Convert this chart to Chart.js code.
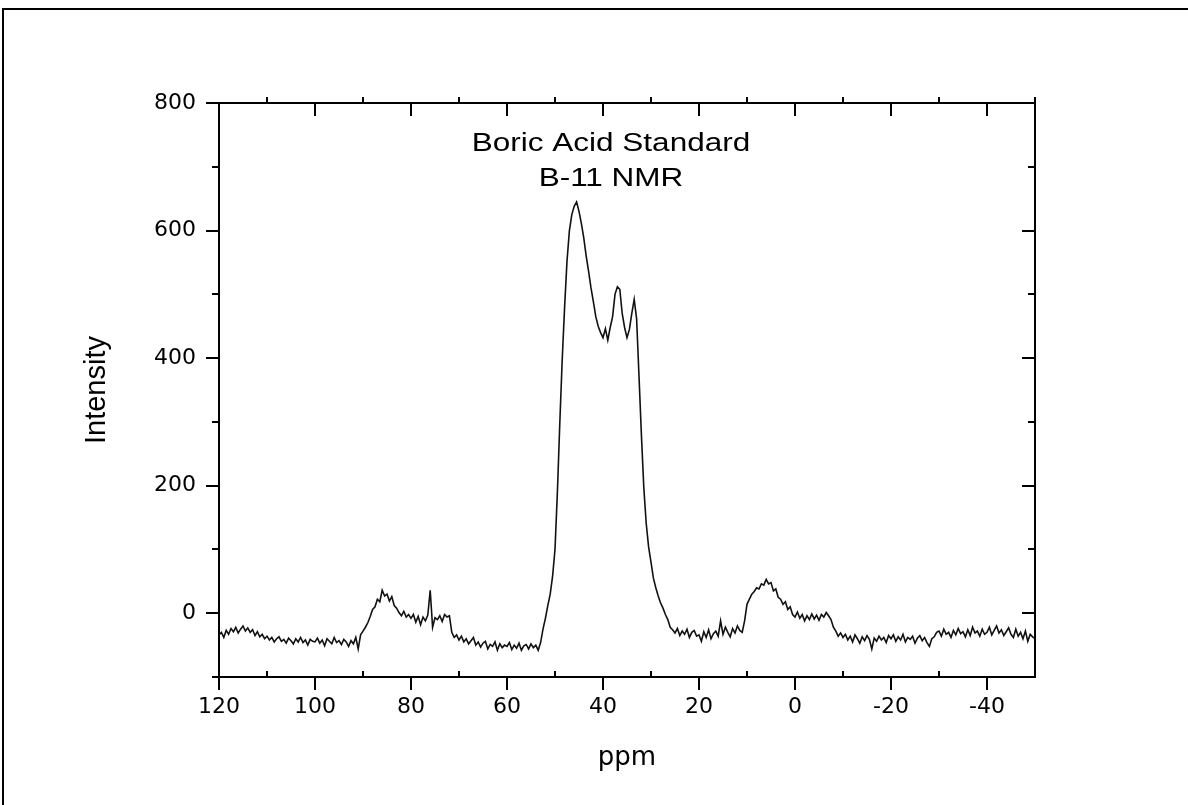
<!DOCTYPE html>
<html>
<head>
<meta charset="utf-8">
<script src="https://cdn.jsdelivr.net/npm/chart.js@4.4.1/dist/chart.umd.min.js"></script>
<style>
  html, body { margin: 0; padding: 0; background: #fff; }
  canvas { display: block; }
</style>
</head>
<body>
<canvas id="c" width="1188" height="805"></canvas>
<script>
// ---- sampling grid of the spectrum (ppm, 0.5 ppm per point, high -> low) ----
const ppmStart = 120;
const ppmStep = 0.5;

// ---- intensity values, in 10 ppm blocks ----
const seg120 = [-34,-30,-38,-27,-33,-24,-29,-22,-31,-25,-20,-28,-23,-30,-26,-35,-29,-37,-33,-40];
const seg110 = [-36,-42,-38,-45,-40,-37,-44,-41,-47,-39,-43,-48,-40,-45,-38,-46,-42,-50,-41,-44];
const seg100 = [-45,-39,-47,-42,-51,-40,-44,-48,-38,-46,-43,-49,-41,-45,-52,-43,-48,-38,-56,-34];
const seg90  = [-28,-22,-15,-5,6,10,22,18,36,27,30,19,26,12,8,1,-4,3,-6,-2];
const seg80  = [-8,-2,-14,-5,-18,-6,-12,-3,36,-22,-7,-10,-4,-13,-2,-6,-4,-30,-38,-34];
const seg70  = [-42,-36,-45,-40,-48,-43,-38,-50,-45,-53,-47,-44,-56,-49,-52,-45,-58,-48,-54,-50];
const seg60  = [-52,-46,-57,-50,-55,-47,-58,-51,-49,-56,-48,-54,-50,-58,-46,-25,-8,12,30,58];
const seg50  = [100,190,298,397,480,552,600,625,638,645,630,611,588,560,536,510,488,465,450,440];
const seg40  = [432,446,428,448,465,500,512,508,470,448,432,445,470,492,462,372,280,197,141,104];
const seg30  = [80,55,40,27,16,8,-2,-10,-22,-26,-31,-24,-35,-28,-33,-25,-38,-30,-27,-36];
const seg20  = [-34,-44,-29,-38,-26,-40,-32,-28,-36,-12,-33,-22,-30,-37,-24,-31,-20,-27,-30,-12];
const seg10  = [14,22,30,34,40,38,46,44,53,46,48,35,38,25,22,14,18,6,10,-2];
const seg0   = [-6,2,-8,-2,-12,-4,-10,-1,-9,-3,-11,-2,-6,1,-4,-10,-22,-28,-36,-31];
const segM10 = [-38,-33,-42,-36,-45,-34,-40,-47,-37,-43,-35,-41,-56,-39,-44,-36,-42,-38,-46,-35];
const segM20 = [-40,-34,-44,-37,-42,-33,-45,-38,-41,-36,-47,-39,-35,-43,-38,-46,-52,-40,-37,-30];
const segM30 = [-28,-36,-25,-33,-30,-38,-27,-34,-24,-32,-29,-37,-26,-35,-22,-31,-28,-36,-25,-33];
const segM40 = [-30,-22,-34,-27,-20,-31,-26,-35,-29,-23,-33,-38,-25,-36,-30,-40,-28,-44,-33,-37,-40];

// ---- axis ticks and labels ----
const xMajorTicks = [120,100,80,60,40,20,0,-20,-40];
const xMinorTicks = [110,90,70,50,30,10,-10,-30,-50];
const yMajorTicks = [0,200,400,600,800];
const yMinorTicks = [-100,100,300,500,700];
const xRange = [-50, 120];
const yRange = [-100, 800];
const xTitle = 'ppm';
const yTitle = 'Intensity';
const titleLines = ['Boric Acid Standard', 'B-11 NMR'];

// ---- build the point table ----
const intensity = [].concat(seg120, seg110, seg100, seg90, seg80, seg70, seg60, seg50,
  seg40, seg30, seg20, seg10, seg0, segM10, segM20, segM30, segM40);
const points = intensity.map((v, i) => ({ x: ppmStart - i * ppmStep, y: v }));

const FONT = '"Liberation Sans", Arial, sans-serif';
const WIDE = '"DejaVu Sans", "Liberation Sans", sans-serif';

const tickPlugin = {
  id: 'tickMarks',
  afterDraw(chart) {
    const { ctx, chartArea: a, scales } = chart;
    const xs = scales.x, ys = scales.y;
    const MAJ = 13, MIN = 7;
    ctx.save();
    ctx.strokeStyle = '#000';
    ctx.lineWidth = 2;
    ctx.beginPath();
    xMajorTicks.forEach(v => {
      const px = Math.round(xs.getPixelForValue(v));
      ctx.moveTo(px, a.bottom); ctx.lineTo(px, a.bottom + MAJ);   // bottom: outward
      ctx.moveTo(px, a.top);    ctx.lineTo(px, a.top + MAJ);      // top: inward
    });
    xMinorTicks.forEach(v => {
      const px = Math.round(xs.getPixelForValue(v));
      ctx.moveTo(px, a.bottom); ctx.lineTo(px, a.bottom - MIN + 1); // bottom: inward
      ctx.moveTo(px, a.top);    ctx.lineTo(px, a.top - MIN + 1);    // top: outward
    });
    yMajorTicks.forEach(v => {
      const py = Math.round(ys.getPixelForValue(v));
      ctx.moveTo(a.left, py);  ctx.lineTo(a.left - MAJ, py);       // left: outward
      ctx.moveTo(a.right, py); ctx.lineTo(a.right - MAJ, py);      // right: inward
    });
    yMinorTicks.forEach(v => {
      const py = Math.round(ys.getPixelForValue(v));
      ctx.moveTo(a.left, py);  ctx.lineTo(a.left - MIN, py);
      ctx.moveTo(a.right, py); ctx.lineTo(a.right - MIN, py);
    });
    ctx.stroke();

    // in-plot title (horizontally widened like the reference lettering)
    ctx.fillStyle = '#000';
    ctx.font = '25px ' + FONT;
    ctx.textAlign = 'center';
    ctx.textBaseline = 'middle';
    ctx.save();
    ctx.translate(611, 0);
    ctx.scale(1.26, 1);
    ctx.fillText(titleLines[0], 0, 144);
    ctx.fillText(titleLines[1], 0, 179);
    ctx.restore();

    // page frame (top and left edges)
    ctx.lineWidth = 2;
    ctx.beginPath();
    ctx.moveTo(3, 805); ctx.lineTo(3, 9); ctx.lineTo(1188, 9);
    ctx.stroke();
    ctx.restore();
  }
};

new Chart(document.getElementById('c'), {
  type: 'line',
  data: {
    datasets: [{
      data: points,
      borderColor: '#111',
      borderWidth: 1.6,
      pointRadius: 0,
      tension: 0,
      fill: false
    }]
  },
  options: {
    responsive: false,
    devicePixelRatio: 1,
    animation: false,
    parsing: false,
    plugins: { legend: { display: false }, tooltip: { enabled: false } },
    layout: { padding: 0 },
    scales: {
      x: {
        type: 'linear', position: 'bottom', reverse: true,
        min: xRange[0], max: xRange[1],
        afterFit: s => { s.height = 128; },
        afterBuildTicks: s => { s.ticks = xMajorTicks.map(v => ({ value: v })); },
        grid: { display: false, drawTicks: false },
        border: { display: true, color: '#000', width: 2 },
        ticks: { color: '#000', padding: 17, maxRotation: 0, autoSkip: false,
                 font: { family: WIDE, size: 22 }, callback: v => String(v) },
        title: { display: true, text: xTitle, color: '#000',
                 font: { family: WIDE, size: 26 }, padding: { top: 0, bottom: 31 } }
      },
      x2: {
        type: 'linear', position: 'top', reverse: true,
        min: xRange[0], max: xRange[1],
        afterFit: s => { s.height = 103; },
        grid: { display: false, drawTicks: false },
        border: { display: true, color: '#000', width: 2 },
        ticks: { display: false }
      },
      y: {
        type: 'linear', position: 'left',
        min: yRange[0], max: yRange[1],
        afterFit: s => { s.width = 219; },
        afterBuildTicks: s => { s.ticks = yMajorTicks.map(v => ({ value: v })); },
        grid: { display: false, drawTicks: false },
        border: { display: true, color: '#000', width: 2 },
        ticks: { color: '#000', padding: 23, autoSkip: false,
                 font: { family: WIDE, size: 22 }, callback: v => String(v) },
        title: { display: true, text: yTitle, color: '#000',
                 font: { family: FONT, size: 29 }, padding: { top: 80, bottom: 0 } }
      },
      y2: {
        type: 'linear', position: 'right',
        min: yRange[0], max: yRange[1],
        afterFit: s => { s.width = 153; },
        grid: { display: false, drawTicks: false },
        border: { display: true, color: '#000', width: 2 },
        ticks: { display: false }
      }
    }
  },
  plugins: [tickPlugin]
});
</script>
</body>
</html>
